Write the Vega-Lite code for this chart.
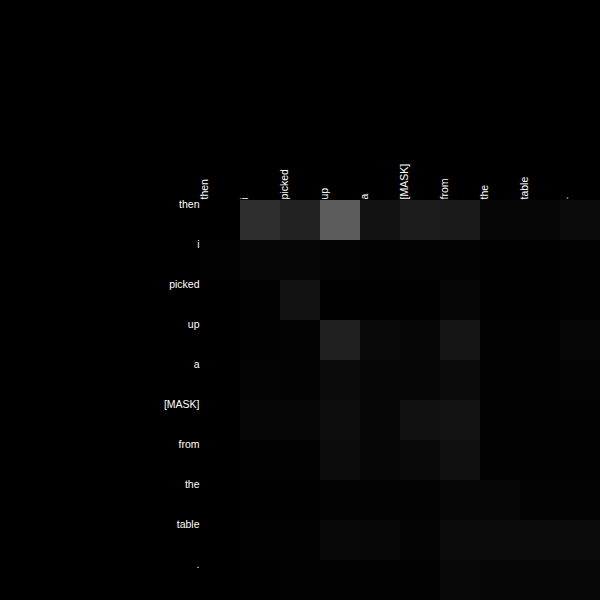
{
  "$schema": "https://vega.github.io/schema/vega-lite/v6.json",
  "autosize": {"type": "none"},
  "padding": {"left": 200, "top": 200, "right": 0, "bottom": 0},
  "width": 400,
  "height": 400,
  "background": "#000000",
  "config": {"view": {"stroke": null, "fill": "#000000"}},
  "datasets": {
    "att": [
      {"row": "then", "col": "then", "v": 0}, {"row": "then", "col": "i", "v": 46}, {"row": "then", "col": "picked", "v": 34}, {"row": "then", "col": "up", "v": 92}, {"row": "then", "col": "a", "v": 18}, {"row": "then", "col": "[MASK]", "v": 28}, {"row": "then", "col": "from", "v": 26}, {"row": "then", "col": "the", "v": 6}, {"row": "then", "col": "table", "v": 6}, {"row": "then", "col": ".", "v": 10},
      {"row": "i", "col": "then", "v": 2}, {"row": "i", "col": "i", "v": 6}, {"row": "i", "col": "picked", "v": 6}, {"row": "i", "col": "up", "v": 4}, {"row": "i", "col": "a", "v": 2}, {"row": "i", "col": "[MASK]", "v": 3}, {"row": "i", "col": "from", "v": 3}, {"row": "i", "col": "the", "v": 1}, {"row": "i", "col": "table", "v": 1}, {"row": "i", "col": ".", "v": 2},
      {"row": "picked", "col": "then", "v": 0}, {"row": "picked", "col": "i", "v": 2}, {"row": "picked", "col": "picked", "v": 18}, {"row": "picked", "col": "up", "v": 1}, {"row": "picked", "col": "a", "v": 1}, {"row": "picked", "col": "[MASK]", "v": 1}, {"row": "picked", "col": "from", "v": 5}, {"row": "picked", "col": "the", "v": 1}, {"row": "picked", "col": "table", "v": 1}, {"row": "picked", "col": ".", "v": 2},
      {"row": "up", "col": "then", "v": 0}, {"row": "up", "col": "i", "v": 2}, {"row": "up", "col": "picked", "v": 3}, {"row": "up", "col": "up", "v": 32}, {"row": "up", "col": "a", "v": 9}, {"row": "up", "col": "[MASK]", "v": 5}, {"row": "up", "col": "from", "v": 20}, {"row": "up", "col": "the", "v": 2}, {"row": "up", "col": "table", "v": 2}, {"row": "up", "col": ".", "v": 5},
      {"row": "a", "col": "then", "v": 0}, {"row": "a", "col": "i", "v": 4}, {"row": "a", "col": "picked", "v": 3}, {"row": "a", "col": "up", "v": 11}, {"row": "a", "col": "a", "v": 6}, {"row": "a", "col": "[MASK]", "v": 6}, {"row": "a", "col": "from", "v": 10}, {"row": "a", "col": "the", "v": 2}, {"row": "a", "col": "table", "v": 2}, {"row": "a", "col": ".", "v": 4},
      {"row": "[MASK]", "col": "then", "v": 0}, {"row": "[MASK]", "col": "i", "v": 6}, {"row": "[MASK]", "col": "picked", "v": 6}, {"row": "[MASK]", "col": "up", "v": 13}, {"row": "[MASK]", "col": "a", "v": 5}, {"row": "[MASK]", "col": "[MASK]", "v": 17}, {"row": "[MASK]", "col": "from", "v": 19}, {"row": "[MASK]", "col": "the", "v": 2}, {"row": "[MASK]", "col": "table", "v": 2}, {"row": "[MASK]", "col": ".", "v": 2},
      {"row": "from", "col": "then", "v": 0}, {"row": "from", "col": "i", "v": 2}, {"row": "from", "col": "picked", "v": 2}, {"row": "from", "col": "up", "v": 12}, {"row": "from", "col": "a", "v": 6}, {"row": "from", "col": "[MASK]", "v": 9}, {"row": "from", "col": "from", "v": 16}, {"row": "from", "col": "the", "v": 2}, {"row": "from", "col": "table", "v": 2}, {"row": "from", "col": ".", "v": 2},
      {"row": "the", "col": "then", "v": 0}, {"row": "the", "col": "i", "v": 1}, {"row": "the", "col": "picked", "v": 1}, {"row": "the", "col": "up", "v": 3}, {"row": "the", "col": "a", "v": 3}, {"row": "the", "col": "[MASK]", "v": 3}, {"row": "the", "col": "from", "v": 5}, {"row": "the", "col": "the", "v": 6}, {"row": "the", "col": "table", "v": 3}, {"row": "the", "col": ".", "v": 3},
      {"row": "table", "col": "then", "v": 0}, {"row": "table", "col": "i", "v": 2}, {"row": "table", "col": "picked", "v": 2}, {"row": "table", "col": "up", "v": 8}, {"row": "table", "col": "a", "v": 7}, {"row": "table", "col": "[MASK]", "v": 4}, {"row": "table", "col": "from", "v": 11}, {"row": "table", "col": "the", "v": 11}, {"row": "table", "col": "table", "v": 11}, {"row": "table", "col": ".", "v": 11},
      {"row": ".", "col": "then", "v": 0}, {"row": ".", "col": "i", "v": 1}, {"row": ".", "col": "picked", "v": 2}, {"row": ".", "col": "up", "v": 2}, {"row": ".", "col": "a", "v": 2}, {"row": ".", "col": "[MASK]", "v": 2}, {"row": ".", "col": "from", "v": 8}, {"row": ".", "col": "the", "v": 5}, {"row": ".", "col": "table", "v": 6}, {"row": ".", "col": ".", "v": 7}
    ]
  },
  "data": {"name": "att"},
  "mark": {"type": "rect", "strokeWidth": 0},
  "encoding": {
    "x": {
      "field": "col", "type": "nominal",
      "sort": ["then", "i", "picked", "up", "a", "[MASK]", "from", "the", "table", "."],
      "scale": {"paddingInner": 0, "paddingOuter": 0},
      "axis": {"orient": "top", "title": null, "labelOffset": -20, "ticks": false, "domain": false, "labelAngle": -90, "labelAlign": "left", "labelBaseline": "top", "labelPadding": 1, "labelFont": "Liberation Sans", "labelFontSize": 10.5, "labelColor": "#ffffff", "labelOverlap": false}
    },
    "y": {
      "field": "row", "type": "nominal",
      "sort": ["then", "i", "picked", "up", "a", "[MASK]", "from", "the", "table", "."],
      "scale": {"paddingInner": 0, "paddingOuter": 0},
      "axis": {"title": null, "labelOffset": -20, "ticks": false, "domain": false, "labelAlign": "right", "labelBaseline": "top", "labelPadding": 1, "labelFont": "Liberation Sans", "labelFontSize": 10.5, "labelColor": "#ffffff", "labelOverlap": false}
    },
    "color": {
      "field": "v", "type": "quantitative",
      "scale": {"domain": [0, 255], "range": ["#000000", "#ffffff"], "interpolate": "rgb"},
      "legend": null
    }
  }
}
